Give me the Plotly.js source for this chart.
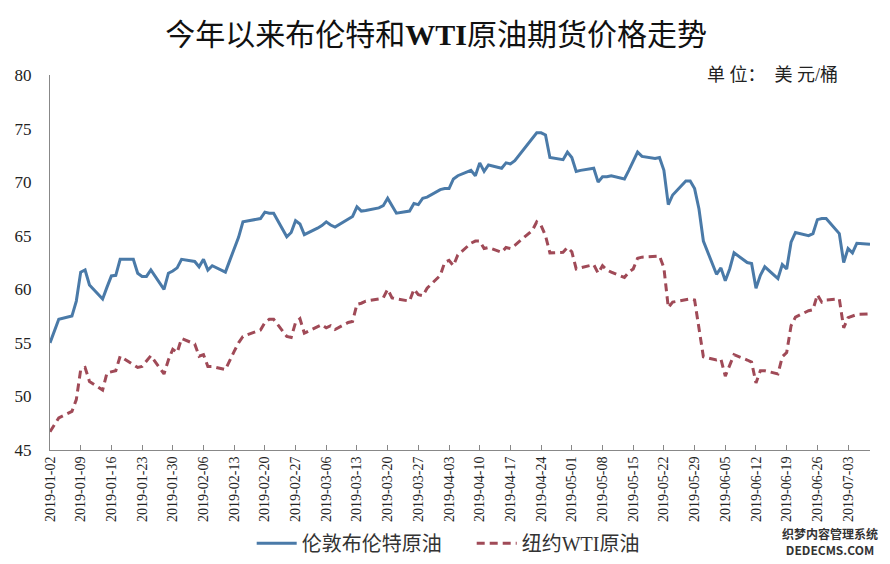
<!DOCTYPE html>
<html>
<head>
<meta charset="utf-8">
<script src="https://cdn.plot.ly/plotly-3.0.1.min.js"></script>
<style>
html,body{margin:0;padding:0;background:#fff;}
#chart{width:890px;height:564px;}
</style>
</head>
<body>
<div id="chart"></div>
<script>
var dates = [
"2019-01-02","2019-01-03","2019-01-04",
"2019-01-07","2019-01-08","2019-01-09","2019-01-10","2019-01-11",
"2019-01-14","2019-01-15","2019-01-16","2019-01-17","2019-01-18",
"2019-01-21","2019-01-22","2019-01-23","2019-01-24","2019-01-25",
"2019-01-28","2019-01-29","2019-01-30","2019-01-31","2019-02-01",
"2019-02-04","2019-02-05","2019-02-06","2019-02-07","2019-02-08",
"2019-02-11","2019-02-12","2019-02-13","2019-02-14","2019-02-15",
"2019-02-18","2019-02-19","2019-02-20","2019-02-21","2019-02-22",
"2019-02-25","2019-02-26","2019-02-27","2019-02-28","2019-03-01",
"2019-03-04","2019-03-05","2019-03-06","2019-03-07","2019-03-08",
"2019-03-11","2019-03-12","2019-03-13","2019-03-14","2019-03-15",
"2019-03-18","2019-03-19","2019-03-20","2019-03-21","2019-03-22",
"2019-03-25","2019-03-26","2019-03-27","2019-03-28","2019-03-29",
"2019-04-01","2019-04-02","2019-04-03","2019-04-04","2019-04-05",
"2019-04-08","2019-04-09","2019-04-10","2019-04-11","2019-04-12",
"2019-04-15","2019-04-16","2019-04-17","2019-04-18","2019-04-19",
"2019-04-22","2019-04-23","2019-04-24","2019-04-25","2019-04-26",
"2019-04-29","2019-04-30","2019-05-01","2019-05-02","2019-05-03",
"2019-05-06","2019-05-07","2019-05-08","2019-05-09","2019-05-10",
"2019-05-13","2019-05-14","2019-05-15","2019-05-16","2019-05-17",
"2019-05-20","2019-05-21","2019-05-22","2019-05-23","2019-05-24",
"2019-05-27","2019-05-28","2019-05-29","2019-05-30","2019-05-31",
"2019-06-03","2019-06-04","2019-06-05","2019-06-06","2019-06-07",
"2019-06-10","2019-06-11","2019-06-12","2019-06-13","2019-06-14",
"2019-06-17","2019-06-18","2019-06-19","2019-06-20","2019-06-21",
"2019-06-24","2019-06-25","2019-06-26","2019-06-27","2019-06-28",
"2019-07-01","2019-07-02","2019-07-03","2019-07-04","2019-07-05",
"2019-07-08"
];

var brent = [
55.0,56.1,57.2,
57.5,58.9,61.6,61.8,60.4,
59.1,60.2,61.25,61.3,62.8,
62.8,61.5,61.2,61.2,61.8,
60.0,61.5,61.7,62.0,62.8,
62.6,62.1,62.8,61.8,62.2,
61.6,62.7,63.8,64.85,66.3,
66.5,66.6,67.2,67.1,67.1,
64.9,65.3,66.4,66.1,65.1,
65.7,65.95,66.3,66.0,65.8,
66.6,66.8,67.7,67.3,67.35,
67.6,67.8,68.5,67.8,67.1,
67.3,68.0,67.9,68.5,68.6,
69.3,69.4,69.4,70.3,70.6,
71.1,70.6,71.8,71.0,71.6,
71.3,71.8,71.7,72.0,null,
74.1,74.6,74.6,74.4,72.3,
72.1,72.8,72.3,71.0,71.1,
71.3,70.0,70.5,70.5,70.6,
70.3,71.1,72.0,72.8,72.4,
72.2,72.3,71.1,67.9,68.8,
70.1,70.1,69.4,67.5,64.5,
61.4,62.0,60.8,61.9,63.4,
62.5,62.4,60.1,61.3,62.1,
61.0,62.3,61.9,64.4,65.3,
65.0,65.2,66.5,66.6,66.6,
65.2,62.5,63.8,63.4,64.3,
64.2
];

var wti = [
46.7,47.3,48.0,
48.6,49.7,52.5,52.7,51.4,
50.6,52.2,52.3,52.4,53.75,
null,52.7,52.8,53.3,53.8,
52.1,53.4,54.4,54.1,55.4,
54.9,53.75,53.9,52.8,52.8,
52.5,53.4,54.2,55.0,55.6,
null,56.2,56.9,57.2,57.2,
55.6,55.5,56.9,57.25,55.9,
56.5,56.7,56.4,56.6,56.25,
56.9,57.0,58.6,58.7,58.9,
59.1,59.2,60.0,59.2,59.1,
58.9,60.0,59.5,59.4,60.1,
61.3,62.5,62.7,62.2,63.2,
64.3,64.5,64.5,63.8,63.9,
63.45,63.9,63.8,64.1,null,
65.5,66.3,65.95,65.0,63.4,
63.45,63.9,63.5,61.9,62.0,
62.3,61.5,62.2,61.8,61.6,
61.1,61.6,61.9,62.9,63.0,
63.1,63.1,62.0,58.3,58.8,
null,59.1,59.0,56.3,53.7,
53.4,53.5,51.9,53.0,53.9,
53.4,53.2,51.25,52.4,52.4,
52.1,53.7,54.1,56.6,57.4,
58.0,58.1,59.5,58.8,59.0,
59.1,56.4,57.35,null,57.65,
57.7
];

var tickDates = [
"2019-01-02","2019-01-09","2019-01-16","2019-01-23","2019-01-30",
"2019-02-06","2019-02-13","2019-02-20","2019-02-27","2019-03-06",
"2019-03-13","2019-03-20","2019-03-27","2019-04-03","2019-04-10",
"2019-04-17","2019-04-24","2019-05-01","2019-05-08","2019-05-15",
"2019-05-22","2019-05-29","2019-06-05","2019-06-12","2019-06-19",
"2019-06-26","2019-07-03"
];

var seriesNames = ["伦敦布伦特原油", "纽约WTI原油"];
var titleText = "今年以来布伦特和<b>WTI</b>原油期货价格走势";
var unitText = "单 位：  美 元/桶";
var watermark = "<b>织梦内容管理系统</b><br><b>DEDECMS.COM</b>";

var serif = "'Liberation Serif', 'Times New Roman', 'Noto Sans CJK SC', serif";
var cjk = "'Liberation Serif', 'Noto Sans CJK SC', sans-serif";

var traces = [
  {
    x: dates, y: brent, name: seriesNames[0], type: "scatter", mode: "lines",
    connectgaps: true,
    line: {color: "#4A7AA8", width: 3}
  },
  {
    x: dates, y: wti, name: seriesNames[1], type: "scatter", mode: "lines",
    connectgaps: true,
    line: {color: "#A04A57", width: 3, dash: "8px,5px"}
  }
];

var layout = {
  width: 890, height: 564,
  paper_bgcolor: "#ffffff", plot_bgcolor: "#ffffff",
  margin: {l: 50, r: 20, t: 75, b: 114},
  showlegend: true,
  title: {
    text: titleText,
    font: {family: cjk, size: 30, color: "#111"},
    x: 0.49, xref: "container", xanchor: "center",
    y: 0.938, yref: "container", yanchor: "middle"
  },
  xaxis: {
    type: "date",
    range: ["2019-01-02", "2019-07-08"],
    tickvals: tickDates,
    ticktext: tickDates,
    tickangle: -90,
    tickfont: {family: serif, size: 14, color: "#222"},
    ticks: "inside", ticklen: 5, tickcolor: "#888", tickwidth: 1,
    showline: true, linecolor: "#888", linewidth: 1,
    showgrid: false, zeroline: false, fixedrange: true
  },
  yaxis: {
    range: [45, 80],
    tickvals: [45, 50, 55, 60, 65, 70, 75, 80],
    tickfont: {family: serif, size: 17, color: "#222"},
    ticks: "", ticklabelstandoff: 14,
    showline: true, linecolor: "#888", linewidth: 1,
    showgrid: false, zeroline: false, fixedrange: true
  },
  legend: {
    orientation: "h",
    x: 0.53, xref: "container", xanchor: "center",
    y: 0.037, yref: "container", yanchor: "middle",
    font: {family: cjk, size: 20, color: "#333"},
    itemwidth: 40,
    entrywidth: 165,
    traceorder: "normal"
  },
  annotations: [
    {
      text: unitText, xref: "paper", yref: "paper",
      x: 1.0, xanchor: "right", y: 1.0, yanchor: "middle",
      xshift: -30, yshift: 0,
      showarrow: false,
      font: {family: cjk, size: 18, color: "#222"}
    },
    {
      text: watermark,
      xref: "paper", yref: "paper",
      x: 1.012, xanchor: "right", y: -0.245, yanchor: "middle",
      showarrow: false, align: "center",
      font: {family: "'Noto Sans CJK SC', sans-serif", size: 12, color: "#333"}
    }
  ]
};

Plotly.newPlot("chart", traces, layout, {displayModeBar: false, staticPlot: true});
</script>
</body>
</html>
